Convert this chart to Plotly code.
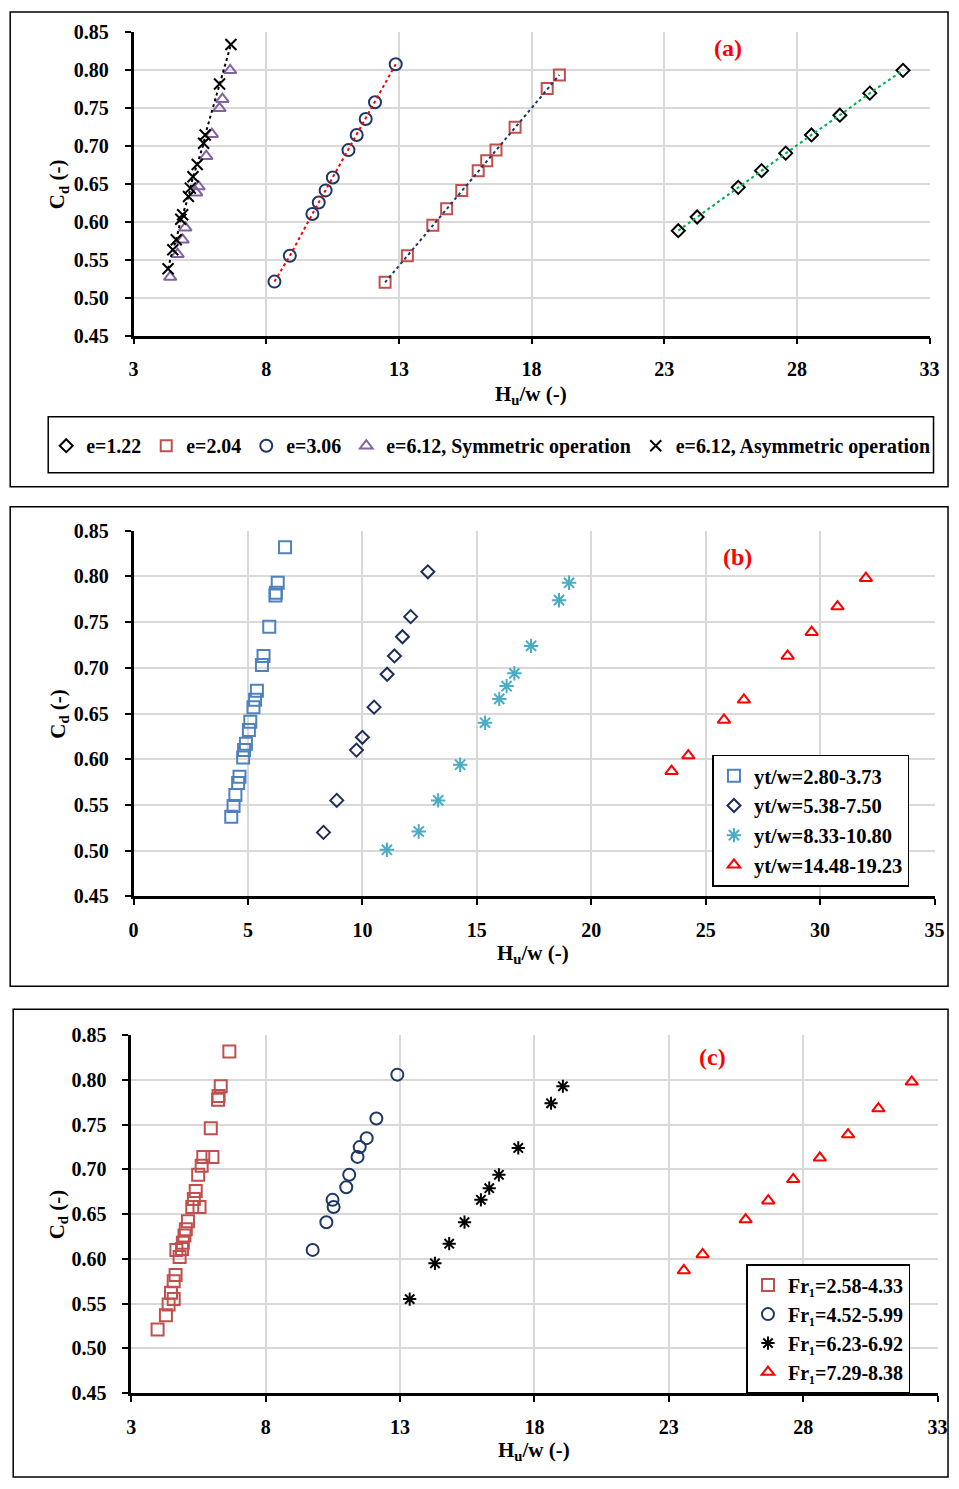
import plotly.graph_objects as go

# ---------------- DATA ----------------
# Panel (a)
a_e122_x = [23.53, 24.24, 25.79, 26.67, 27.58, 28.55, 29.62, 30.75, 32.00]
a_e122_y = [0.588, 0.606, 0.645, 0.667, 0.690, 0.714, 0.740, 0.769, 0.799]

a_e204_x = [12.48, 13.32, 14.28, 14.80, 15.37, 15.99, 16.31, 16.66, 17.38, 18.59, 19.05]
a_e204_y = [0.520, 0.555, 0.595, 0.617, 0.641, 0.667, 0.680, 0.694, 0.724, 0.775, 0.793]

a_e306_x = [8.31, 8.89, 9.74, 9.98, 10.24, 10.51, 11.10, 11.41, 11.75, 12.10, 12.88]
a_e306_y = [0.521, 0.555, 0.610, 0.625, 0.641, 0.658, 0.694, 0.714, 0.735, 0.757, 0.807]

a_sym_x = [4.38, 4.66, 4.85, 4.95, 5.36, 5.45, 5.74, 5.95, 6.24, 6.35, 6.64]
a_sym_y = [0.527, 0.557, 0.576, 0.592, 0.638, 0.646, 0.686, 0.715, 0.749, 0.761, 0.799]

a_asym_x = [4.30, 4.48, 4.61, 4.78, 4.85, 5.07, 5.14, 5.24, 5.40, 5.64, 5.70, 6.24, 6.67]
a_asym_y = [0.538, 0.563, 0.576, 0.603, 0.609, 0.633, 0.644, 0.659, 0.675, 0.703, 0.714, 0.781, 0.833]

# Panel (b)
b_s1_x = [4.27, 4.37, 4.45, 4.57, 4.63, 4.79, 4.83, 4.91, 5.04, 5.10, 5.24, 5.31, 5.39,
          5.61, 5.68, 5.93, 6.20, 6.22, 6.30, 6.62]
b_s1_y = [0.537, 0.549, 0.561, 0.574, 0.581, 0.602, 0.610, 0.617, 0.632, 0.641, 0.657, 0.665, 0.675,
          0.703, 0.713, 0.745, 0.779, 0.782, 0.793, 0.832]

b_s2_x = [8.30, 8.88, 9.74, 10.00, 10.51, 11.08, 11.40, 11.75, 12.11, 12.86]
b_s2_y = [0.520, 0.555, 0.610, 0.624, 0.657, 0.693, 0.713, 0.734, 0.756, 0.805]

b_s3_x = [11.07, 12.46, 13.31, 14.27, 15.36, 15.98, 16.30, 16.64, 17.37, 18.59, 19.03]
b_s3_y = [0.501, 0.521, 0.555, 0.594, 0.640, 0.666, 0.680, 0.694, 0.724, 0.774, 0.793]

b_s4_x = [23.51, 24.24, 25.80, 26.67, 28.58, 29.63, 30.76, 32.00]
b_s4_y = [0.587, 0.604, 0.643, 0.665, 0.713, 0.739, 0.767, 0.798]

# Panel (c)
c_s1_x = [3.98, 4.29, 4.39, 4.58, 4.48, 4.58, 4.65, 4.80, 4.68, 4.89, 4.92, 4.98, 5.03, 5.11,
          5.54, 5.27, 5.33, 5.40, 5.49, 5.62, 5.68, 6.02, 5.96, 6.23, 6.25, 6.33, 6.65]
c_s1_y = [0.521, 0.537, 0.549, 0.555, 0.562, 0.575, 0.582, 0.602, 0.610, 0.611, 0.618, 0.626, 0.633, 0.642,
          0.658, 0.658, 0.667, 0.676, 0.694, 0.704, 0.714, 0.714, 0.746, 0.778, 0.782, 0.793, 0.832]

c_s2_x = [9.75, 10.26, 10.53, 10.49, 11.00, 11.11, 11.42, 11.50, 11.76, 12.12, 12.90]
c_s2_y = [0.610, 0.641, 0.658, 0.666, 0.680, 0.694, 0.714, 0.725, 0.735, 0.757, 0.806]

c_s3_x = [13.36, 14.30, 14.83, 15.40, 16.01, 16.32, 16.68, 17.40, 18.62, 19.06]
c_s3_y = [0.555, 0.595, 0.617, 0.641, 0.666, 0.679, 0.694, 0.724, 0.774, 0.793]

c_s4_x = [23.56, 24.26, 25.86, 26.70, 27.63, 28.62, 29.67, 30.80, 32.04]
c_s4_y = [0.587, 0.605, 0.644, 0.665, 0.689, 0.713, 0.739, 0.768, 0.798]

names_a = ["e=1.22", "e=2.04", "e=3.06", "e=6.12, Symmetric operation", "e=6.12, Asymmetric operation"]
names_b = ["yt/w=2.80-3.73", "yt/w=5.38-7.50", "yt/w=8.33-10.80", "yt/w=14.48-19.23"]
names_c = ["Fr\u2081=2.58-4.33", "Fr\u2081=4.52-5.99", "Fr\u2081=6.23-6.92", "Fr\u2081=7.29-8.38"]

y_ticks = [0.45, 0.50, 0.55, 0.60, 0.65, 0.70, 0.75, 0.80, 0.85]

# ---------------- STYLE ----------------
W, H = 959, 1489
FONT = "Liberation Serif"
GRID = "#D9D9D9"
# calibration of page pixels to photographed pixels
SX, CX = 0.984, 4.8
SY, CY = 0.986, 10.9


def fx(t):
    p = (t - CX) / SX
    p = min(max(p, 1), W - 1)
    return p / W


def fy(t):
    p = (t - CY) / SY
    p = min(max(p, 1), H - 1)
    return 1 - p / H


fig = go.Figure()


def mk(x, y, name, symbol, color, size, xa, ya, legend, showlegend=True, lw=2):
    fig.add_trace(go.Scatter(
        x=x, y=y, name=name, mode="markers", xaxis=xa, yaxis=ya, legend=legend,
        showlegend=showlegend,
        marker=dict(symbol=symbol, size=size, color=color, line=dict(width=lw, color=color)),
    ))


def ln(x, y, color, xa, ya):
    fig.add_trace(go.Scatter(
        x=x, y=y, mode="lines", xaxis=xa, yaxis=ya, showlegend=False, hoverinfo="skip",
        line=dict(color=color, width=2, dash="dot"),
    ))


# Panel (a)
mk(a_e122_x, a_e122_y, names_a[0], "diamond-open", "#000000", 10, "x", "y", "legend")
mk(a_e204_x, a_e204_y, names_a[1], "square-open", "#C0504D", 11, "x", "y", "legend")
mk(a_e306_x, a_e306_y, names_a[2], "circle-open", "#1F3864", 12, "x", "y", "legend")
mk(a_sym_x, a_sym_y, names_a[3], "triangle-up-open", "#8064A2", 11, "x", "y", "legend")
mk(a_asym_x, a_asym_y, names_a[4], "x-thin-open", "#000000", 11, "x", "y", "legend")
ln(a_e122_x, a_e122_y, "#00B050", "x", "y")
ln(a_e204_x, a_e204_y, "#1F3864", "x", "y")
ln(a_e306_x, a_e306_y, "#FF0000", "x", "y")
ln(a_asym_x, a_asym_y, "#000000", "x", "y")

# Panel (b)
mk(b_s1_x, b_s1_y, names_b[0], "square-open", "#4F81BD", 12, "x2", "y2", "legend2")
mk(b_s2_x, b_s2_y, names_b[1], "diamond-open", "#1F2D5A", 10, "x2", "y2", "legend2")
mk(b_s3_x, b_s3_y, names_b[2], "asterisk-open", "#4BACC6", 12, "x2", "y2", "legend2")
mk(b_s4_x, b_s4_y, names_b[3], "triangle-up-open", "#FF0000", 11, "x2", "y2", "legend2")

# Panel (c)
mk(c_s1_x, c_s1_y, names_c[0], "square-open", "#C0504D", 12, "x3", "y3", "legend3")
mk(c_s2_x, c_s2_y, names_c[1], "circle-open", "#1F3864", 12, "x3", "y3", "legend3")
mk(c_s3_x, c_s3_y, names_c[2], "asterisk-open", "#000000", 11, "x3", "y3", "legend3")
mk(c_s4_x, c_s4_y, names_c[3], "triangle-up-open", "#FF0000", 11, "x3", "y3", "legend3")

tickfont = dict(family=FONT, size=20, color="black", weight="bold")


def xax(domain, anchor, rng, tick0):
    return dict(domain=domain, anchor=anchor, range=rng, tickmode="linear", tick0=tick0, dtick=5,
                showgrid=True, gridcolor=GRID, gridwidth=2, zeroline=False,
                showline=True, linecolor="black", linewidth=2.5,
                ticks="outside", ticklen=6, tickwidth=2, tickcolor="black",
                tickfont=tickfont, ticklabelstandoff=8, fixedrange=True)


def yax(domain, anchor):
    return dict(domain=domain, anchor=anchor, range=[0.45, 0.85], tickmode="array",
                tickvals=y_ticks, tickformat=".2f",
                showgrid=True, gridcolor=GRID, gridwidth=2, zeroline=False,
                showline=True, linecolor="black", linewidth=2.5,
                ticks="outside", ticklen=6, tickwidth=2, tickcolor="black",
                tickfont=tickfont, ticklabelstandoff=12, fixedrange=True)


def xin(over, anchor, rng, tick0, domain):
    return dict(overlaying=over, anchor=anchor, range=rng, tickmode="linear", tick0=tick0, dtick=5,
                domain=domain, showgrid=False, zeroline=False, showline=False, showticklabels=False,
                ticks="inside", ticklen=6, tickwidth=2, tickcolor="black", fixedrange=True)


def yin(over, anchor, domain):
    return dict(overlaying=over, anchor=anchor, range=[0.45, 0.85], tickmode="array", tickvals=y_ticks,
                domain=domain, showgrid=False, zeroline=False, showline=False, showticklabels=False,
                ticks="inside", ticklen=6, tickwidth=2, tickcolor="black", fixedrange=True)


dxa = [fx(133.3), fx(929)]
dya = [fy(335.7), fy(31.5)]
dxb = [fx(133.3), fx(934)]
dyb = [fy(897), fy(531)]
dxc = [fx(131), fx(937)]
dyc = [fy(1394), fy(1036)]

legfont = dict(family=FONT, color="black", weight="bold")

fig.update_layout(
    width=W, height=H,
    margin=dict(l=0, r=0, t=0, b=0),
    paper_bgcolor="white", plot_bgcolor="white",
    font=dict(family=FONT, color="black"),
    xaxis=xax(dxa, "y", [3, 33], 3),
    yaxis=yax(dya, "x"),
    xaxis2=xax(dxb, "y2", [0, 35], 0),
    yaxis2=yax(dyb, "x2"),
    xaxis3=xax(dxc, "y3", [3, 33], 3),
    yaxis3=yax(dyc, "x3"),
    xaxis4=xin("x", "y", [3, 33], 3, dxa),
    yaxis4=yin("y", "x", dya),
    xaxis5=xin("x2", "y2", [0, 35], 0, dxb),
    yaxis5=yin("y2", "x2", dyb),
    xaxis6=xin("x3", "y3", [3, 33], 3, dxc),
    yaxis6=yin("y3", "x3", dyc),
    legend=dict(x=fx(46), y=fy(446), xanchor="left", yanchor="middle", orientation="h",
                borderwidth=0, bgcolor="rgba(0,0,0,0)",
                font=dict(size=19.9, **legfont), itemwidth=30),
    legend2=dict(x=fx(712), y=fy(755), xanchor="left", yanchor="top", orientation="v",
                 bordercolor="black", borderwidth=1.5, bgcolor="white",
                 font=dict(size=20.5, **legfont), itemwidth=30),
    legend3=dict(x=fx(746), y=fy(1265), xanchor="left", yanchor="top", orientation="v",
                 bordercolor="black", borderwidth=1.5, bgcolor="white",
                 font=dict(size=20, **legfont), itemwidth=30),
)

# panel borders and the frame of legend (a)
for (x0, y0, x1, y1, w) in [(10, 7, 957, 487, 1.5), (10, 507, 957, 987, 1.5), (13, 1010, 957, 1489, 1.5),
                            (48, 417, 933, 473, 1.5)]:
    fig.add_shape(type="rect", xref="paper", yref="paper", x0=fx(x0), x1=fx(x1), y0=fy(y1), y1=fy(y0),
                  line=dict(color="black", width=w), fillcolor="rgba(0,0,0,0)", layer="below")

# axis titles and panel labels
titlefont = dict(family=FONT, size=21, color="black", weight="bold")
for (cx, cy) in [(58, 184), (58, 714), (58, 1215)]:
    fig.add_annotation(text="C<sub>d</sub> (-)", x=fx(cx), y=fy(cy), xref="paper", yref="paper",
                       textangle=-90, showarrow=False, font=titlefont, xanchor="center", yanchor="middle")
for (cx, cy) in [(531, 395), (533, 955), (534, 1452)]:
    fig.add_annotation(text="H<sub>u</sub>/w (-)", x=fx(cx), y=fy(cy), xref="paper", yref="paper",
                       showarrow=False, font=titlefont, xanchor="center", yanchor="middle")
for (lab, cx, cy) in [("(a)", 728, 48), ("(b)", 737, 557), ("(c)", 712, 1058)]:
    fig.add_annotation(text=lab, x=fx(cx), y=fy(cy), xref="paper", yref="paper", showarrow=False,
                       font=dict(family=FONT, size=24, color="#FF0000", weight="bold"),
                       xanchor="center", yanchor="middle")

fig.write_html("out.html", config={"displayModeBar": False},
               post_script="document.body.style.margin='0';document.body.style.overflow='hidden';")
